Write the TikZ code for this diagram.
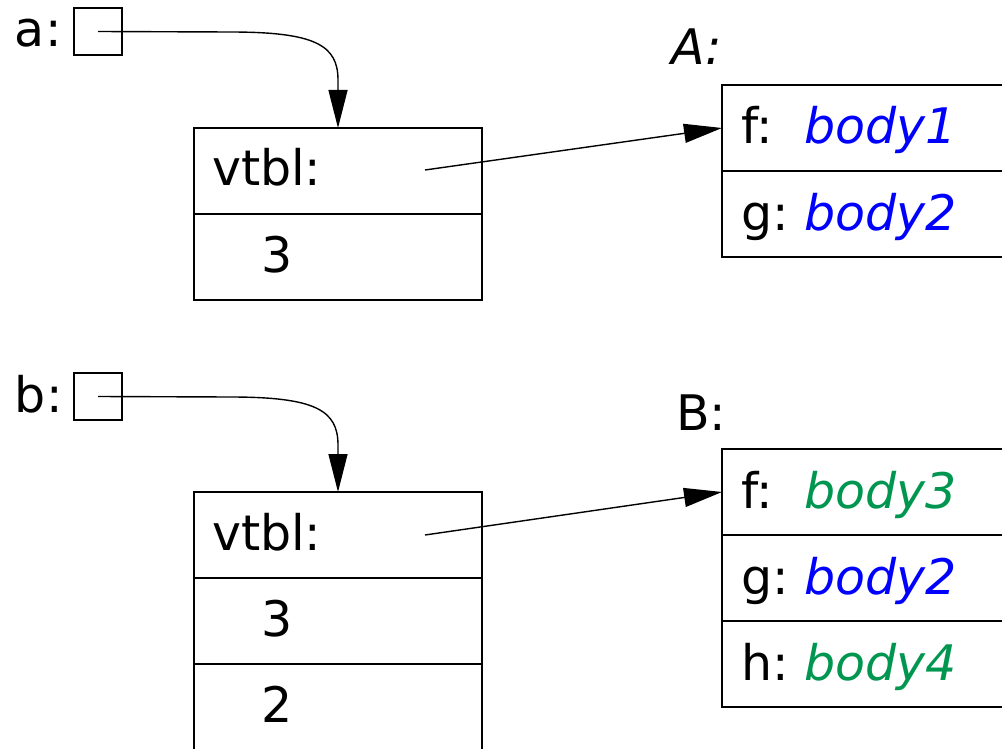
\documentclass[tikz,border=0pt]{standalone}
\usepackage{fontspec}
\setmainfont{DejaVu Sans}
\usetikzlibrary{arrows.meta}
\definecolor{bodyblue}{RGB}{0,0,255}
\definecolor{bodygreen}{RGB}{0,150,80}
\newcommand{\slotlbl}[1]{\makebox[31.5pt][l]{#1}}
\begin{document}
\begin{tikzpicture}[x=0.5pt,y=-0.5pt,
  cell/.style={draw,line width=0.7pt,inner sep=0pt,outer sep=0pt,minimum width=144pt,minimum height=43pt},
  rcell/.style={cell,minimum width=145pt},
  ptrbox/.style={draw,line width=0.7pt,inner sep=0pt,outer sep=0pt,minimum width=24pt,minimum height=23.5pt},
  txt/.style={inner sep=0pt,outer sep=0pt,anchor=base west,font=\fontsize{24.5pt}{29pt}\selectfont},
  ptr/.style={line width=0.7pt,-{Triangle[length=19pt,width=9.5pt]}},
]
\useasboundingbox (0,0) rectangle (1002,749);
\clip (0,0) rectangle (1002,749);

% ---- a ----
\node[ptrbox] (aptr) at (98,31.5) {};
\node[txt] (la) at (15,47) {a:};
\node[cell] (a1) at (338,171) {};
\node[cell] (a2) at (338,257) {};
\node[txt] (tva) at (212,185) {vtbl:};
\node[txt] (t3a) at (261,272) {3};

\node[txt] (lA) at (671,65) {\textit{A:}};
\node[rcell] (A1) at (867,128) {};
\node[rcell] (A2) at (867,214) {};
\node[txt] (tfa) at (741,144) {\slotlbl{f:}\textcolor{bodyblue}{\textit{body1}}};
\node[txt] (tga) at (741,230) {\slotlbl{g:}\textcolor{bodyblue}{\textit{body2}}};

\coordinate (ca1) at (230,32);
\coordinate (ca2) at (338,80);
\draw[ptr] (aptr.center) -- (ca1) .. controls (315,32) and (338,45) .. (ca2) -- (a1.north);
\coordinate (va) at (425,170);
\draw[ptr] (va) -- (A1.west);

% ---- b ----
\node[ptrbox] (bptr) at (98,396.5) {};
\node[txt] (lb) at (15,412) {b:};
\node[cell] (b1) at (338,535) {};
\node[cell] (b2) at (338,621) {};
\node[cell] (b3) at (338,707) {};
\node[txt] (tvb) at (212,550) {vtbl:};
\node[txt] (t3b) at (261,636) {3};
\node[txt] (t2b) at (261,722) {2};

\node[txt] (lB) at (676,430) {B:};
\node[rcell] (B1) at (867,492) {};
\node[rcell] (B2) at (867,578) {};
\node[rcell] (B3) at (867,664) {};
\node[txt] (tfb) at (741,508) {\slotlbl{f:}\textcolor{bodygreen}{\textit{body3}}};
\node[txt] (tgb) at (741,594) {\slotlbl{g:}\textcolor{bodyblue}{\textit{body2}}};
\node[txt] (thb) at (741,680) {\slotlbl{h:}\textcolor{bodygreen}{\textit{body4}}};

\coordinate (cb1) at (230,397);
\coordinate (cb2) at (338,445);
\draw[ptr] (bptr.center) -- (cb1) .. controls (315,397) and (338,410) .. (cb2) -- (b1.north);
\coordinate (vb) at (425,535);
\draw[ptr] (vb) -- (B1.west);
\end{tikzpicture}
\end{document}
